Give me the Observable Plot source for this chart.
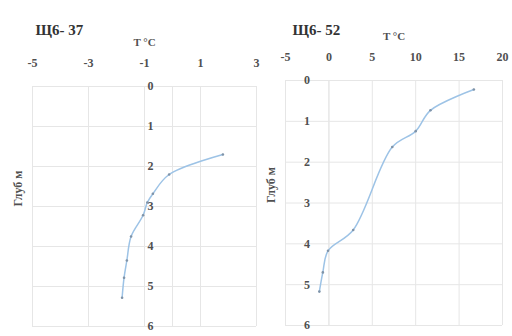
<!DOCTYPE html>
<html>
<head>
<meta charset="utf-8">
<script src="https://cdn.jsdelivr.net/npm/d3@7"></script>
<script src="https://cdn.jsdelivr.net/npm/@observablehq/plot@0.6"></script>
<style>
  html, body { margin: 0; padding: 0; background: #fff; }
  #wrap { position: relative; width: 512px; height: 336px; overflow: hidden; background: #fff; }
  #wrap > div { position: absolute; top: 0; }
  #wrap svg { background: transparent !important; overflow: visible; }
  #wrap svg, #wrap svg text, #wrap svg g { font-family: "Liberation Serif", "Times New Roman", serif !important; }
</style>
</head>
<body>
<div id="wrap"><div id="left"></div><div id="right"></div></div>
<script>
// ---- data ----
const titleA = "Щ6- 37";
const titleB = "Щ6- 52";
const xLabel = "T °C";
const yLabel = "Глуб м";
const tempA = [1.8, -0.12, -0.7, -0.9, -1.05, -1.48, -1.63, -1.73, -1.8];
const depthA = [1.7, 2.2, 2.68, 2.9, 3.22, 3.75, 4.35, 4.78, 5.28];
const tempB = [16.7, 11.7, 10.0, 7.3, 2.8, -0.1, -0.7, -1.1];
const depthB = [0.22, 0.73, 1.24, 1.63, 3.66, 4.17, 4.7, 5.17];
const xTicksA = [-5, -3, -1, 1, 3];
const xTicksB = [-5, 0, 5, 10, 15, 20];
const yTicks = [0, 1, 2, 3, 4, 5, 6];

const lineColor = "#9dc3e6";
const gridColor = "#e6e6e6";
const labelColor = "#505050";

function panel(temp, depth, xDomain, xTicks, title, m, titleDx) {
  const data = temp.map((t, i) => ({t, d: depth[i]}));
  return Plot.plot({
    width: m.width, height: 336,
    marginLeft: m.left, marginRight: m.right, marginTop: m.top, marginBottom: m.bottom,
    style: {fontSize: "12px", background: "transparent", overflow: "visible"},
    x: {domain: xDomain, axis: null},
    y: {domain: [0, 6], reverse: true, axis: null},
    marks: [
      Plot.ruleX(xTicks, {stroke: gridColor, strokeWidth: 1}),
      Plot.ruleX([0], {stroke: gridColor, strokeWidth: 1}),
      Plot.ruleY(yTicks, {stroke: gridColor, strokeWidth: 1}),
      Plot.axisX({anchor: "top", ticks: xTicks, tickSize: 0, tickPadding: 20, label: null,
        fontWeight: "bold", fill: labelColor, fontSize: 12, tickFormat: d => String(d)}),
      Plot.text(yTicks, {x: () => 0, y: d => d, text: d => String(d), dx: -22,
        fontWeight: "bold", fill: labelColor, fontSize: 12, textAnchor: "middle"}),
      Plot.line(data, {x: "t", y: "d", stroke: lineColor, strokeWidth: 1.5, curve: "catmull-rom"}),
      Plot.dot(data, {x: "t", y: "d", r: 1.3, fill: "#7f93a8", stroke: null}),
      Plot.text([xLabel], {frameAnchor: "top", dy: -48, fontWeight: "bold", fill: labelColor, fontSize: 11}),
      Plot.text([title], {frameAnchor: "top-left", dx: titleDx, dy: m.titleDy, textAnchor: "start",
        fontWeight: "bold", fill: "#333", fontSize: 15}),
      Plot.text([yLabel], {frameAnchor: "left", dx: -14, rotate: -90, fontWeight: "bold",
        fill: labelColor, fontSize: 12})
    ]
  });
}

const left = panel(tempA, depthA, [-5, 3], xTicksA, titleA,
  {width: 262, left: 32, right: 6, top: 86, bottom: 10, titleDy: -62}, 3);
const right = panel(tempB, depthB, [-5, 20], xTicksB, titleB,
  {width: 262, left: 35, right: 10, top: 80, bottom: 11, titleDy: -56}, 7);
document.getElementById("left").append(left);
const r = document.getElementById("right");
r.style.left = "250px";
r.append(right);
</script>
</body>
</html>
